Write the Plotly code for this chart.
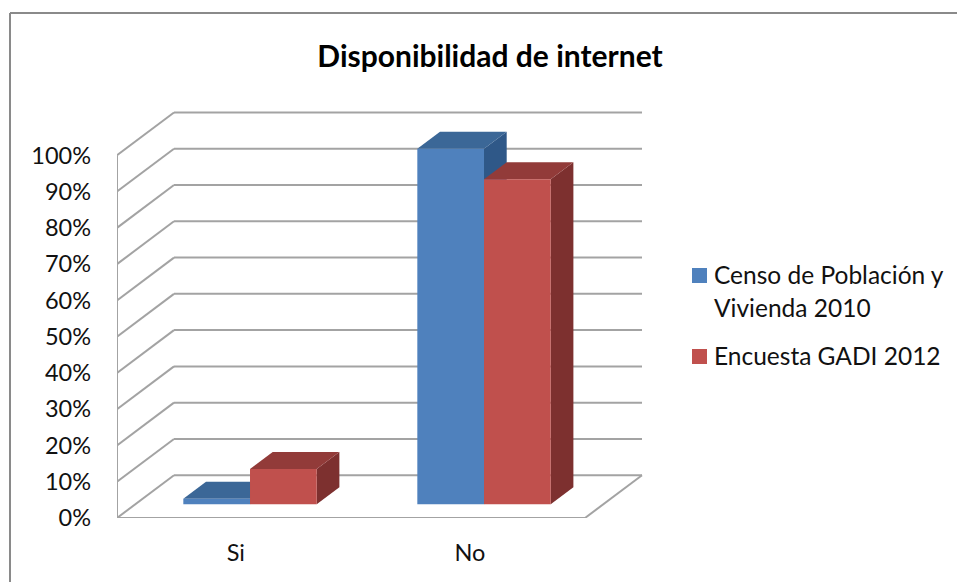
import plotly.graph_objects as go

categories = ['Si', 'No']
censo_values = [1.5, 98]
encuesta_values = [9.7, 89.6]
y_ticks = list(range(0, 101, 10))
y_labels = [f'{v}%' for v in y_ticks]
category_ticks = [0.008, 1.008]
legend_lines = ['Censo de Población y', 'Vivienda 2010', 'Encuesta GADI 2012']

W, H = 957, 582
LEFT, RIGHT, TOP, BOTTOM = 117, 311, 108, 64
FONT = 'Lato'
TEXT_SIZE = 23.5

# fake 3D: everything is offset in data units
WALL_DX, WALL_DY = 0.2436, 11.8      # front plane to back wall
BAR_DX, BAR_DY = 0.0684, 3.78        # front plane to bar front
DEPTH_DX, DEPTH_DY = 0.097, 4.7      # depth of one bar
BAR_W = 0.285
X0, X1 = -0.5, 1.5
GRID = '#a3a3a3'


def line(x0, y0, x1, y1):
    return dict(type='line', x0=x0, y0=y0, x1=x1, y1=y1, layer='below',
                line=dict(color=GRID, width=2))


def face(points, color):
    path = 'M' + 'L'.join(f'{x},{y}' for x, y in points) + 'Z'
    return dict(type='path', path=path, fillcolor=color, layer='below',
                line=dict(width=0))


def box_faces(left, top, top_color, side_color):
    right = left + BAR_W
    return [
        face([(right, BAR_DY), (right + DEPTH_DX, BAR_DY + DEPTH_DY),
              (right + DEPTH_DX, top + DEPTH_DY), (right, top)], side_color),
        face([(left, top), (left + DEPTH_DX, top + DEPTH_DY),
              (right + DEPTH_DX, top + DEPTH_DY), (right, top)], top_color),
    ]


def px_x(px):
    return (px - LEFT) / (W - LEFT - RIGHT)


def px_y(px):
    return 1 - (px - TOP) / (H - TOP - BOTTOM)


def frame_line(x0, y0, x1, y1):
    return dict(type='line', xref='paper', yref='paper', x0=px_x(x0), y0=px_y(y0),
                x1=px_x(x1), y1=px_y(y1), line=dict(color='#8a8a8a', width=2))


def swatch(x, y, color):
    return dict(type='rect', xref='paper', yref='paper', x0=px_x(x), x1=px_x(x + 15),
                y0=px_y(y), y1=px_y(y + 15), fillcolor=color, line=dict(width=0))


def legend_text(text, y):
    return dict(text=text, xref='paper', yref='paper', x=px_x(712), y=px_y(y),
                xanchor='left', yanchor='middle', showarrow=False,
                font=dict(family=FONT, size=24.5, color='#111111'))


# walls and floor
shapes = []
for v in y_ticks:
    shapes.append(line(X0, v, X0 + WALL_DX, v + WALL_DY))
    shapes.append(line(X0 + WALL_DX, v + WALL_DY, X1 + WALL_DX, v + WALL_DY))
shapes.append(line(X0, 0, X0, 100))
shapes.append(line(X0, 0, X1, 0))
shapes.append(line(X1, 0, X1 + WALL_DX, WALL_DY))

# back faces first so the red boxes cover the blue ones
for i, v in enumerate(censo_values):
    shapes += box_faces(i + BAR_DX - BAR_W, v + BAR_DY, '#3b6797', '#2f5888')
for i, v in enumerate(encuesta_values):
    shapes += box_faces(i + BAR_DX, v + BAR_DY, '#923b39', '#7d302f')

shapes += [frame_line(10, 13, W, 13), frame_line(10, 13, 10, H)]
shapes += [swatch(692, 268, '#4f81bd'), swatch(692, 349, '#c0504d')]

fig = go.Figure()
fig.add_trace(go.Bar(
    name='Censo de Población y Vivienda 2010',
    x=[i + BAR_DX for i in range(len(categories))],
    y=censo_values,
    base=BAR_DY,
    width=BAR_W,
    offset=-BAR_W,
    marker=dict(color='#4f81bd', line=dict(width=0)),
))
fig.add_trace(go.Bar(
    name='Encuesta GADI 2012',
    x=[i + BAR_DX for i in range(len(categories))],
    y=encuesta_values,
    base=BAR_DY,
    width=BAR_W,
    offset=0,
    marker=dict(color='#c0504d', line=dict(width=0)),
))

fig.update_layout(
    title=dict(text='<b>Disponibilidad de internet</b>', x=490 / W, xanchor='center',
               y=1 - 56 / H, yanchor='middle',
               font=dict(family=FONT, size=30, color='#000000')),
    width=W,
    height=H,
    margin=dict(l=LEFT, r=RIGHT, t=TOP, b=BOTTOM),
    paper_bgcolor='white',
    plot_bgcolor='white',
    showlegend=False,
    shapes=shapes,
    annotations=[legend_text(legend_lines[0], 274), legend_text(legend_lines[1], 307),
                 legend_text(legend_lines[2], 355)],
    font=dict(family=FONT, size=TEXT_SIZE, color='#111111'),
)
fig.update_xaxes(range=[X0, X0 + (W - LEFT - RIGHT) / 234], tickvals=category_ticks, ticktext=categories,
                 showgrid=False, zeroline=False, showline=False, ticks='', ticklabelstandoff=18)
fig.update_yaxes(range=[0, (H - TOP - BOTTOM) / 3.627], tickvals=y_ticks, ticktext=y_labels,
                 showgrid=False, zeroline=False, showline=False, ticks='', ticklabelstandoff=25)

fig.write_html("out.html", config=dict(displayModeBar=False),
               post_script="document.body.style.margin='0';")
